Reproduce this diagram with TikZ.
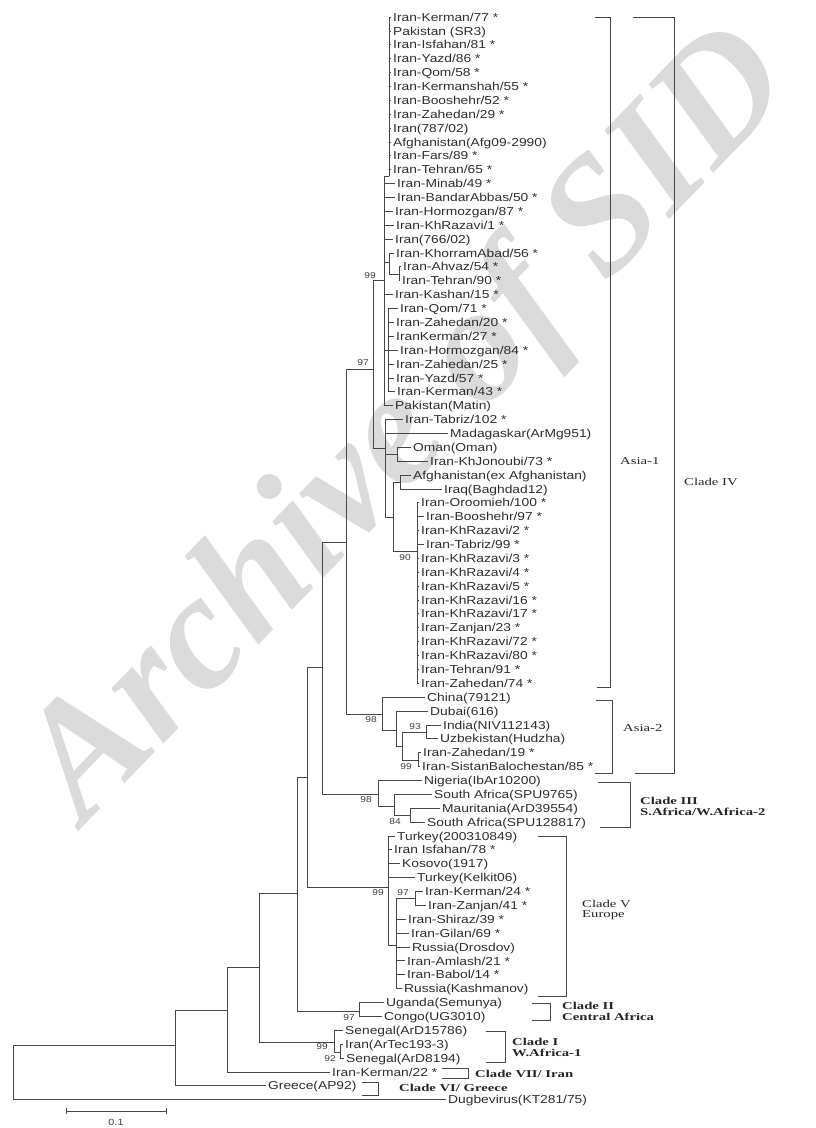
\documentclass[tikz,border=0pt]{standalone}
\usepackage{fontspec}
\setmainfont{Liberation Sans}
\newfontfamily\lffam[FakeStretch=1.2]{Liberation Sans}
\newfontfamily\clfam[FakeStretch=1.4]{Liberation Serif}
\newfontfamily\wmfam{Liberation Serif}
\newcommand\lfn[4]{\node[lf] (#1) at (#2,{17+(#3-1)*13.88}) {#4};}
\begin{document}
\begin{tikzpicture}[x=1pt,y=-1pt,
  brl/.style={draw=black!72, line width=0.75pt},
  lf/.style={anchor=west, inner xsep=2pt, inner ysep=0pt, text height=8.3pt, text depth=0pt, font=\lffam\fontsize{11.5}{12}\selectfont, text=black!82},
  bsv/.style={font=\lffam\fontsize{8.5}{9}\selectfont, text=black!75, inner sep=0pt},
  cll/.style={anchor=west, font=\clfam\fontsize{10.5}{10}\selectfont, inner sep=0pt, text=black!85},
  clb/.style={anchor=west, font=\clfam\bfseries\fontsize{10.5}{10}\selectfont, inner sep=0pt, text=black!85},
  brk/.style={draw=black!72, line width=0.8pt}]
\useasboundingbox (0,0) rectangle (816,1128);
\fill[white] (0,0) rectangle (816,1128);
% watermark
\node[rotate=46, text=black!14, font=\wmfam\bfseries\itshape\fontsize{165}{165}\selectfont, inner sep=0pt] (wm) at (412,428) {Archive of SID};

% leaves
\lfn{l1}{391}{1}{Iran-Kerman/77 *}
\lfn{l2}{391}{2}{Pakistan (SR3)}
\lfn{l3}{391}{3}{Iran-Isfahan/81 *}
\lfn{l4}{391}{4}{Iran-Yazd/86 *}
\lfn{l5}{391}{5}{Iran-Qom/58 *}
\lfn{l6}{391}{6}{Iran-Kermanshah/55 *}
\lfn{l7}{391}{7}{Iran-Booshehr/52 *}
\lfn{l8}{391}{8}{Iran-Zahedan/29 *}
\lfn{l9}{391}{9}{Iran(787/02)}
\lfn{l10}{391}{10}{Afghanistan(Afg09-2990)}
\lfn{l11}{391}{11}{Iran-Fars/89 *}
\lfn{l12}{391}{12}{Iran-Tehran/65 *}
\lfn{l13}{395}{13}{Iran-Minab/49 *}
\lfn{l14}{395}{14}{Iran-BandarAbbas/50 *}
\lfn{l15}{393}{15}{Iran-Hormozgan/87 *}
\lfn{l16}{394}{16}{Iran-KhRazavi/1 *}
\lfn{l17}{393}{17}{Iran(766/02)}
\lfn{l18}{394}{18}{Iran-KhorramAbad/56 *}
\lfn{l19}{401}{19}{Iran-Ahvaz/54 *}
\lfn{l20}{400}{20}{Iran-Tehran/90 *}
\lfn{l21}{393}{21}{Iran-Kashan/15 *}
\lfn{l22}{398}{22}{Iran-Qom/71 *}
\lfn{l23}{394}{23}{Iran-Zahedan/20 *}
\lfn{l24}{394}{24}{IranKerman/27 *}
\lfn{l25}{398}{25}{Iran-Hormozgan/84 *}
\lfn{l26}{394}{26}{Iran-Zahedan/25 *}
\lfn{l27}{394}{27}{Iran-Yazd/57 *}
\lfn{l28}{395}{28}{Iran-Kerman/43 *}
\lfn{l29}{393}{29}{Pakistan(Matin)}
\lfn{l30}{403}{30}{Iran-Tabriz/102 *}
\lfn{l31}{448}{31}{Madagaskar(ArMg951)}
\lfn{l32}{411}{32}{Oman(Oman)}
\lfn{l33}{428}{33}{Iran-KhJonoubi/73 *}
\lfn{l34}{411}{34}{Afghanistan(ex Afghanistan)}
\lfn{l35}{442}{35}{Iraq(Baghdad12)}
\lfn{l36}{419}{36}{Iran-Oroomieh/100 *}
\lfn{l37}{424}{37}{Iran-Booshehr/97 *}
\lfn{l38}{419}{38}{Iran-KhRazavi/2 *}
\lfn{l39}{424}{39}{Iran-Tabriz/99 *}
\lfn{l40}{419}{40}{Iran-KhRazavi/3 *}
\lfn{l41}{419}{41}{Iran-KhRazavi/4 *}
\lfn{l42}{419}{42}{Iran-KhRazavi/5 *}
\lfn{l43}{419}{43}{Iran-KhRazavi/16 *}
\lfn{l44}{419}{44}{Iran-KhRazavi/17 *}
\lfn{l45}{419}{45}{Iran-Zanjan/23 *}
\lfn{l46}{419}{46}{Iran-KhRazavi/72 *}
\lfn{l47}{419}{47}{Iran-KhRazavi/80 *}
\lfn{l48}{419}{48}{Iran-Tehran/91 *}
\lfn{l49}{419}{49}{Iran-Zahedan/74 *}
\lfn{l50}{425}{50}{China(79121)}
\lfn{l51}{428}{51}{Dubai(616)}
\lfn{l52}{441}{52}{India(NIV112143)}
\lfn{l53}{438}{53}{Uzbekistan(Hudzha)}
\lfn{l54}{421}{54}{Iran-Zahedan/19 *}
\lfn{l55}{420}{55}{Iran-SistanBalochestan/85 *}
\lfn{l56}{422}{56}{Nigeria(IbAr10200)}
\lfn{l57}{432}{57}{South Africa(SPU9765)}
\lfn{l58}{440}{58}{Mauritania(ArD39554)}
\lfn{l59}{425}{59}{South Africa(SPU128817)}
\lfn{l60}{395}{60}{Turkey(200310849)}
\lfn{l61}{392}{61}{Iran Isfahan/78 *}
\lfn{l62}{400}{62}{Kosovo(1917)}
\lfn{l63}{415}{63}{Turkey(Kelkit06)}
\lfn{l64}{423}{64}{Iran-Kerman/24 *}
\lfn{l65}{426}{65}{Iran-Zanjan/41 *}
\lfn{l66}{406}{66}{Iran-Shiraz/39 *}
\lfn{l67}{409}{67}{Iran-Gilan/69 *}
\lfn{l68}{410}{68}{Russia(Drosdov)}
\lfn{l69}{405}{69}{Iran-Amlash/21 *}
\lfn{l70}{405}{70}{Iran-Babol/14 *}
\lfn{l71}{402}{71}{Russia(Kashmanov)}
\lfn{l72}{384}{72}{Uganda(Semunya)}
\lfn{l73}{382}{73}{Congo(UG3010)}
\lfn{l74}{343}{74}{Senegal(ArD15786)}
\lfn{l75}{343}{75}{Iran(ArTec193-3)}
\lfn{l76}{344}{76}{Senegal(ArD8194)}
\lfn{l77}{330}{77}{Iran-Kerman/22 *}
\lfn{l78}{266}{78}{Greece(AP92)}
\lfn{l79}{446}{79}{Dugbevirus(KT281/75)}

% internal nodes
\coordinate (R) at (13,1072);
\coordinate (A) at (175,1045);
\coordinate (B) at (227,1010);
\coordinate (C) at (259,967);
\coordinate (S1) at (334,1042);
\coordinate (S2) at (340,1052);
\coordinate (D) at (297,893);
\coordinate (UC) at (359,1011);
\coordinate (E) at (307,777);
\coordinate (EV) at (388,887);
\coordinate (Eu2) at (396,945);
\coordinate (N97) at (415,898);
\coordinate (F) at (322,667);
\coordinate (C3) at (378,794);
\coordinate (C3b) at (394,806);
\coordinate (C3c) at (410,815);
\coordinate (G) at (346,542);
\coordinate (AS2) at (382,714);
\coordinate (AS2b) at (396,730);
\coordinate (AS2c) at (402,746);
\coordinate (IU) at (426,732);
\coordinate (ZS) at (418,760);
\coordinate (H) at (373,369);
\coordinate (I) at (384,280);
\coordinate (TG) at (389,176);
\coordinate (K) at (389,262);
\coordinate (K2) at (399,274);
\coordinate (L) at (388,350);
\coordinate (J) at (385,448);
\coordinate (OM) at (397,454);
\coordinate (J3) at (393,517);
\coordinate (AI) at (400,482);
\coordinate (KR) at (417,551);

% branches
\draw[brl] (R) |- (A);
\draw[brl] (R) |- (l79.west);
\draw[brl] (A) |- (B);
\draw[brl] (A) |- (l78.west);
\draw[brl] (B) |- (C);
\draw[brl] (B) |- (l77.west);
\draw[brl] (C) |- (D);
\draw[brl] (C) |- (S1);
\draw[brl] (S1) |- (l74.west);
\draw[brl] (S1) |- (S2);
\draw[brl] (S2) |- (l75.west);
\draw[brl] (S2) |- (l76.west);
\draw[brl] (D) |- (E);
\draw[brl] (D) |- (UC);
\draw[brl] (UC) |- (l72.west);
\draw[brl] (UC) |- (l73.west);
\draw[brl] (E) |- (F);
\draw[brl] (E) |- (EV);
\foreach \n in {60,61,62,63} \draw[brl] (EV) |- (l\n.west);
\draw[brl] (EV) |- (Eu2);
\draw[brl] (Eu2) |- (N97);
\foreach \n in {66,...,71} \draw[brl] (Eu2) |- (l\n.west);
\draw[brl] (N97) |- (l64.west);
\draw[brl] (N97) |- (l65.west);
\draw[brl] (F) |- (G);
\draw[brl] (F) |- (C3);
\draw[brl] (C3) |- (l56.west);
\draw[brl] (C3) |- (C3b);
\draw[brl] (C3b) |- (l57.west);
\draw[brl] (C3b) |- (C3c);
\draw[brl] (C3c) |- (l58.west);
\draw[brl] (C3c) |- (l59.west);
\draw[brl] (G) |- (H);
\draw[brl] (G) |- (AS2);
\draw[brl] (AS2) |- (l50.west);
\draw[brl] (AS2) |- (AS2b);
\draw[brl] (AS2b) |- (l51.west);
\draw[brl] (AS2b) |- (AS2c);
\draw[brl] (AS2c) |- (IU);
\draw[brl] (AS2c) |- (ZS);
\draw[brl] (IU) |- (l52.west);
\draw[brl] (IU) |- (l53.west);
\draw[brl] (ZS) |- (l54.west);
\draw[brl] (ZS) |- (l55.west);
\draw[brl] (H) |- (I);
\draw[brl] (H) |- (J);
\draw[brl] (I) |- (TG);
\foreach \n in {13,...,17} \draw[brl] (I) |- (l\n.west);
\draw[brl] (I) |- (K);
\draw[brl] (I) |- (l21.west);
\draw[brl] (I) |- (L);
\draw[brl] (I) |- (l29.west);
\foreach \n in {1,...,12} \draw[brl] (TG) |- (l\n.west);
\draw[brl] (K) |- (l18.west);
\draw[brl] (K) |- (K2);
\draw[brl] (K2) |- (l19.west);
\draw[brl] (K2) |- (l20.west);
\foreach \n in {22,...,28} \draw[brl] (L) |- (l\n.west);
\draw[brl] (J) |- (l30.west);
\draw[brl] (J) |- (l31.west);
\draw[brl] (J) |- (OM);
\draw[brl] (J) |- (J3);
\draw[brl] (OM) |- (l32.west);
\draw[brl] (OM) |- (l33.west);
\draw[brl] (J3) |- (AI);
\draw[brl] (J3) |- (KR);
\draw[brl] (AI) |- (l34.west);
\draw[brl] (AI) |- (l35.west);
\foreach \n in {36,...,49} \draw[brl] (KR) |- (l\n.west);

% bootstrap values
\node[bsv] (b1) at (370,276) {99};
\node[bsv] (b2) at (363,363) {97};
\node[bsv] (b3) at (405,558) {90};
\node[bsv] (b4) at (371,720) {98};
\node[bsv] (b5) at (415,727) {93};
\node[bsv] (b6) at (406,767) {99};
\node[bsv] (b7) at (366,800) {98};
\node[bsv] (b8) at (395,822) {84};
\node[bsv] (b9) at (378,893) {99};
\node[bsv] (b10) at (403,893) {97};
\node[bsv] (b11) at (349,1018) {97};
\node[bsv] (b12) at (322,1047) {99};
\node[bsv] (b13) at (330,1059) {92};

% clade brackets
\draw[brk] (595,17) -- (610,17) -- (610,687) -- (597,687);
\draw[brk] (633,17) -- (674,17) -- (674,773) -- (635,773);
\draw[brk] (596,700) -- (612,700) -- (612,773) -- (595,773);
\draw[brk] (598,782) -- (630,782) -- (630,827) -- (600,827);
\draw[brk] (538,836) -- (566,836) -- (566,996) -- (538,996);
\draw[brk] (532,1003) -- (550,1003) -- (550,1020) -- (532,1020);
\draw[brk] (486,1031) -- (505,1031) -- (505,1062) -- (486,1062);
\draw[brk] (442,1068) -- (468,1068) -- (468,1078) -- (442,1078);
\draw[brk] (362,1082) -- (378,1082) -- (378,1095) -- (362,1095);

% clade labels
\node[cll] (asia1) at (620,461) {Asia-1};
\node[cll] (c4) at (684,482) {Clade IV};
\node[cll] (asia2) at (623,728) {Asia-2};
\node[clb] (c3a) at (640,801) {Clade III};
\node[clb] (c3b) at (640,812) {S.Africa/W.Africa-2};
\node[cll] (c5a) at (582,904) {Clade V};
\node[cll] (c5b) at (582,915) {Europe};
\node[clb] (c2a) at (562,1006) {Clade II};
\node[clb] (c2b) at (562,1017) {Central Africa};
\node[clb] (c1a) at (512,1042) {Clade I};
\node[clb] (c1b) at (512,1053) {W.Africa-1};
\node[clb] (c7) at (475,1074) {Clade VII/ Iran};
\node[clb] (c6) at (399,1088) {Clade VI/ Greece};

% scale bar
\coordinate (sb1) at (66,1111);
\coordinate (sb2) at (166,1111);
\draw[brl] (sb1) -- (sb2);
\draw[brl] (66,1108) -- (66,1114);
\draw[brl] (166,1108) -- (166,1114);
\node[bsv, font=\lffam\fontsize{9}{9}\selectfont] (sbl) at (116,1122) {0.1};
\end{tikzpicture}
\end{document}
